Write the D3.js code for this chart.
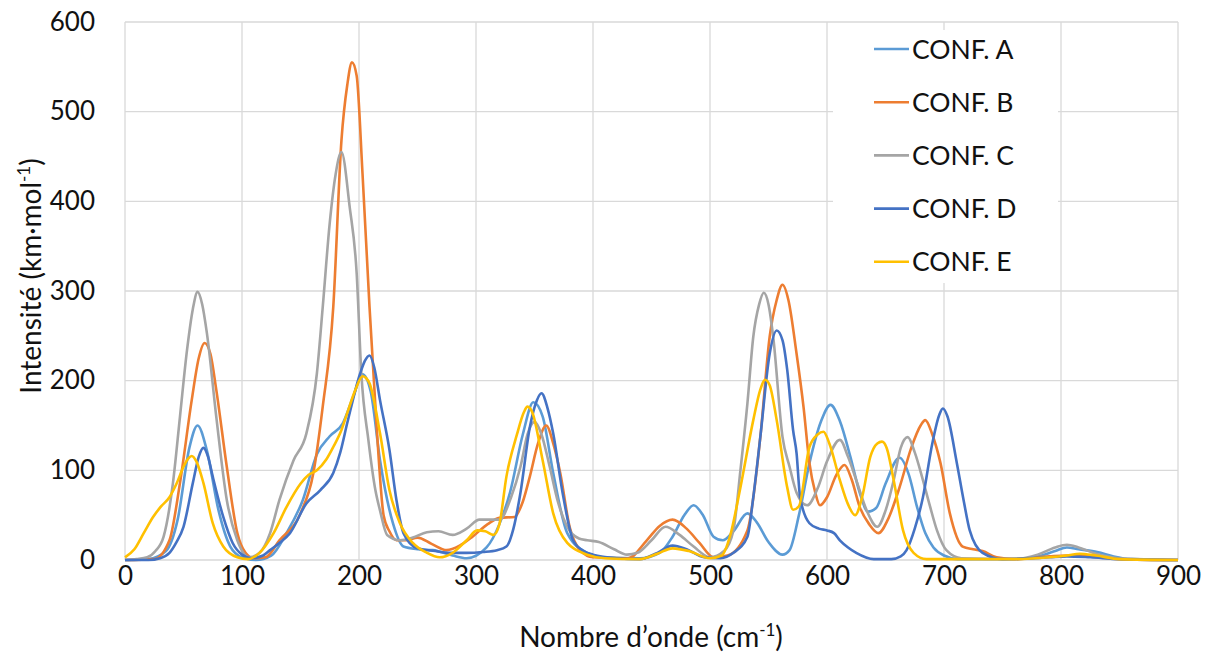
<!DOCTYPE html>
<html>
<head>
<meta charset="utf-8">
<script src="https://cdn.jsdelivr.net/npm/d3@7"></script>
<style>
	body { margin: 0; background: #fff; }
	svg { display: block; font-family: Lato, "Open Sans", sans-serif; }
	.tick text { font-size: 26px; fill: #111; }
</style>
</head>
<body>
<svg id="chart"></svg>
<script>
// values, [wavenumber, intensity]
var xTicks = [0, 100, 200, 300, 400, 500, 600, 700, 800, 900];
var yTicks = [0, 100, 200, 300, 400, 500, 600];
var seriesNames = ["CONF. A", "CONF. B", "CONF. C", "CONF. D", "CONF. E"];
var seriesColors = ["#5B9BD5", "#ED7D31", "#A5A5A5", "#4472C4", "#FFC000"];

var confA = [[0,0],[20,1],[35,10],[45,45],[55,125],[62,150],[70,122],[80,55],[90,15],[100,3],[112,0],[125,5],[138,30],[152,67],[164,118],[175,138],[186,152],[195,182],[203,207],[210,188],[218,111],[229,41],[238,15],[250,12],[263,11],[280,5],[292,2],[309,14],[320,40],[329,75],[340,140],[349,176],[357,160],[366,97],[378,30],[395,8],[410,3],[440,2],[457,8],[468,26],[478,50],[486,61],[494,50],[503,26],[511,22],[520,32],[532,52],[540,42],[550,20],[562,6],[568,11],[576,50],[585,108],[595,155],[603,173],[611,155],[620,115],[628,75],[635,54],[642,58],[650,85],[662,114],[670,95],[677,59],[684,30],[691,14],[700,5],[712,1],[760,1],[780,4],[795,10],[805,14],[815,12],[831,9],[845,4],[860,1],[900,0]];

var confB = [[0,0],[25,1],[38,22],[47,86],[57,178],[63,225],[68,242],[73,230],[78,190],[87,104],[96,30],[103,8],[110,2],[120,3],[132,22],[150,52],[161,97],[169,171],[178,282],[185,468],[190,530],[194,555],[198,540],[203,431],[209,282],[215,150],[221,50],[226,32],[232,22],[240,22],[250,25],[262,18],[275,11],[286,16],[297,26],[310,40],[320,47],[333,48],[340,65],[346,93],[353,130],[360,150],[366,130],[372,97],[380,37],[389,11],[400,3],[430,2],[446,22],[457,38],[468,45],[480,35],[491,19],[503,3],[515,5],[532,33],[543,137],[551,249],[557,290],[562,307],[567,290],[574,230],[580,170],[585,108],[590,75],[594,61],[600,70],[608,95],[615,106],[621,90],[628,59],[636,40],[644,30],[652,45],[662,81],[672,125],[680,150],[684,156],[690,140],[697,108],[705,52],[716,15],[725,12],[733,10],[745,3],[760,1],[790,4],[805,5],[825,4],[850,1],[900,0]];

var confC = [[0,0],[10,1],[19,3],[26,10],[33,26],[41,86],[47,160],[53,234],[58,280],[62,299],[66,285],[70,253],[78,160],[87,67],[96,22],[106,3],[115,8],[124,30],[132,67],[144,111],[155,141],[164,208],[169,282],[175,376],[180,430],[185,455],[192,394],[198,320],[202,208],[208,134],[214,78],[218,55],[224,28],[235,22],[246,25],[258,31],[268,32],[280,28],[292,35],[303,45],[320,45],[330,70],[338,104],[344,140],[350,154],[356,140],[363,104],[370,65],[378,37],[388,24],[395,22],[405,20],[418,12],[429,6],[438,8],[450,22],[462,37],[474,28],[486,15],[500,3],[512,10],[520,33],[526,100],[532,175],[537,249],[542,285],[546,298],[550,285],[554,249],[562,137],[568,104],[574,75],[583,61],[592,80],[600,110],[611,134],[618,115],[625,89],[634,55],[643,37],[650,55],[657,89],[663,125],[669,137],[675,120],[682,89],[688,60],[694,33],[702,11],[715,2],[760,1],[780,6],[795,14],[805,17],[815,14],[830,7],[850,2],[900,0]];

var confD = [[0,0],[20,0],[30,2],[38,8],[44,20],[50,37],[58,86],[63,115],[67,125],[71,115],[75,93],[84,48],[92,19],[100,6],[108,2],[118,5],[124,11],[133,20],[141,30],[155,63],[167,78],[178,97],[184,120],[190,153],[201,208],[205,222],[209,228],[213,215],[218,178],[226,123],[232,67],[238,30],[250,13],[265,10],[278,8],[292,8],[306,9],[318,11],[326,15],[332,35],[338,75],[346,148],[352,178],[356,186],[361,170],[366,141],[374,75],[383,22],[392,10],[400,6],[420,2],[440,1],[455,8],[468,16],[480,12],[495,3],[509,2],[520,8],[532,26],[537,70],[543,137],[551,230],[557,256],[562,245],[566,212],[571,145],[574,119],[577,70],[585,41],[593,35],[600,33],[606,30],[611,22],[618,14],[625,8],[640,1],[655,1],[663,4],[668,11],[675,35],[682,70],[690,130],[696,162],[699,169],[703,160],[711,108],[717,65],[722,33],[733,8],[750,1],[790,3],[805,4],[825,3],[850,1],[900,0]];

var confE = [[0,3],[8,12],[16,30],[24,48],[31,60],[38,70],[44,85],[50,104],[54,113],[57,116],[61,110],[67,86],[75,41],[84,15],[96,3],[105,1],[115,8],[127,30],[138,59],[150,85],[157,95],[164,100],[172,112],[178,126],[185,145],[190,164],[197,190],[203,205],[206,203],[209,197],[218,141],[226,78],[235,41],[246,19],[258,8],[269,3],[280,8],[292,22],[301,33],[308,32],[315,28],[320,40],[326,93],[335,140],[341,165],[344,171],[348,165],[357,111],[366,52],[378,19],[395,6],[410,2],[440,1],[455,7],[468,13],[482,10],[500,2],[510,5],[517,26],[526,81],[537,156],[543,190],[547,201],[551,195],[557,156],[566,81],[571,56],[576,60],[585,126],[592,140],[597,143],[602,130],[611,89],[618,62],[624,50],[630,70],[637,115],[643,130],[647,132],[651,125],[657,89],[665,33],[674,8],[685,1],[760,1],[790,3],[805,5],[816,7],[830,5],[850,1],[900,0]];

var seriesData = [confA, confB, confC, confD, confE];

var W = 1212, H = 656;
var margin = {top: 22, right: 34, bottom: 96, left: 125};
var width = W - margin.left - margin.right,
	height = H - margin.top - margin.bottom;

var svg = d3.select("#chart").attr("width", W).attr("height", H);
var chart = svg.append("g")
	.attr("transform", "translate(" + margin.left + "," + margin.top + ")");

var x = d3.scaleLinear().domain([0, 900]).range([0, width]);
var y = d3.scaleLinear().domain([0, 600]).range([height, 0]);

// gridlines
chart.append("g")
	.attr("class", "grid")
	.selectAll("line.h").data(yTicks).enter()
	.append("line")
	.attr("x1", 0).attr("x2", width)
	.attr("y1", function(d) { return y(d); }).attr("y2", function(d) { return y(d); })
	.attr("stroke", "#d9d9d9").attr("stroke-width", 1.3);
chart.append("g")
	.attr("class", "grid")
	.selectAll("line.v").data(xTicks).enter()
	.append("line")
	.attr("y1", 0).attr("y2", height)
	.attr("x1", function(d) { return x(d); }).attr("x2", function(d) { return x(d); })
	.attr("stroke", "#d9d9d9").attr("stroke-width", 1.3);

// tick labels
var xAxis = chart.append("g")
	.attr("transform", "translate(0," + height + ")")
	.call(d3.axisBottom(x).tickValues(xTicks).tickSize(0).tickPadding(7));
xAxis.select(".domain").remove();

var yAxis = chart.append("g")
	.call(d3.axisLeft(y).tickValues(yTicks).tickSize(0).tickPadding(30));
yAxis.select(".domain").remove();
chart.selectAll(".tick text").attr("font-family", "Lato, 'Open Sans', sans-serif");

// legend box sits over the grid, under the lines
var legend = svg.append("g");
legend.append("rect")
	.attr("x", 833).attr("y", 30).attr("width", 225).attr("height", 253)
	.attr("fill", "#fff");

var line = d3.line()
	.x(function(d) { return x(d[0]); })
	.y(function(d) { return y(d[1]); })
	.curve(d3.curveMonotoneX);

chart.selectAll("path.series")
	.data(seriesData).enter()
	.append("path")
	.attr("class", "series")
	.attr("d", line)
	.attr("fill", "none")
	.attr("stroke", function(d, i) { return seriesColors[i]; })
	.attr("stroke-width", 2.6)
	.attr("stroke-linejoin", "round");

var rows = legend.selectAll("g.item")
	.data(seriesNames).enter()
	.append("g")
	.attr("class", "item")
	.attr("transform", function(d, i) { return "translate(874," + (49 + i * 53.2) + ")"; });
rows.append("line")
	.attr("x1", 0).attr("x2", 35)
	.attr("stroke", function(d, i) { return seriesColors[i]; })
	.attr("stroke-width", 2.6);
rows.append("text")
	.attr("x", 38).attr("dy", "0.36em")
	.attr("font-size", 26.5).attr("fill", "#111")
	.text(function(d) { return d; });

// axis titles
var xt = svg.append("text")
	.attr("x", 651).attr("y", 647)
	.attr("text-anchor", "middle").attr("font-size", 28).attr("fill", "#111");
xt.append("tspan").text("Nombre d\u2019onde (cm");
xt.append("tspan").attr("font-size", 17).attr("dy", -11).text("-1");
xt.append("tspan").attr("dy", 11).text(")");

var yt = svg.append("text")
	.attr("transform", "translate(41,276) rotate(-90)")
	.attr("text-anchor", "middle").attr("font-size", 28).attr("fill", "#111");
yt.append("tspan").text("Intensit\u00e9 (km\u00b7mol");
yt.append("tspan").attr("font-size", 17).attr("dy", -11).text("-1");
yt.append("tspan").attr("dy", 11).text(")");
</script>
</body>
</html>
